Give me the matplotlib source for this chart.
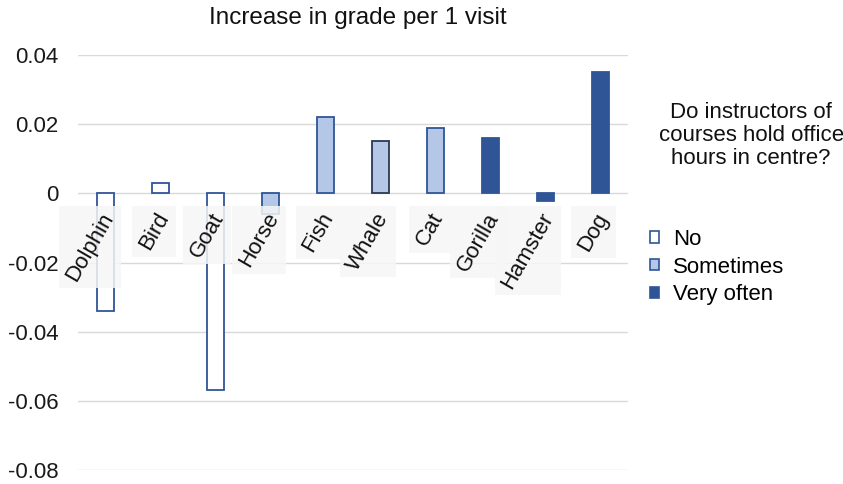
#!/usr/bin/env python3
"""Increase in grade per visit, by animal group."""

import matplotlib
matplotlib.use("Agg")
import matplotlib.pyplot as plt
from matplotlib.patches import Patch, Rectangle
import numpy as np

plt.rcParams["font.family"] = ["Liberation Sans", "DejaVu Sans"]

CATEGORIES = ["Dolphin", "Bird", "Goat", "Horse", "Fish", "Whale", "Cat", "Gorilla", "Hamster", "Dog"]
VALUES = [-0.034, 0.003, -0.057, -0.006, 0.022, 0.0152, 0.019, 0.016, -0.0023, 0.035]
GROUPS = ["No", "No", "No", "Sometimes", "Sometimes", "Sometimes", "Sometimes", "Very often", "Very often", "Very often"]
GROUP_ORDER = ["No", "Sometimes", "Very often"]
Y_TICKS = [-0.08, -0.06, -0.04, -0.02, 0, 0.02, 0.04]
Y_TICK_LABELS = ["-0.08", "-0.06", "-0.04", "-0.02", "0", "0.02", "0.04"]

EDGE = "#2F5597"
FILL = {"No": "white", "Sometimes": "#B4C7E7", "Very often": "#2F5597"}
GRID = "#D9D9D9"


def main() -> None:
    fig = plt.figure(figsize=(8.43, 4.84), dpi=100)
    ax = fig.add_axes([0.0925, 0.029, 0.6525, 0.857])

    x = np.arange(len(CATEGORIES))
    edges = [("#2A3A55" if name == "Whale" else EDGE) for name in CATEGORIES]
    ax.bar(x, VALUES, width=0.31, color=[FILL[g] for g in GROUPS], edgecolor=edges, linewidth=1.3, zorder=2)

    ax.set_xlim(-0.5, len(CATEGORIES) - 0.5)
    ax.set_ylim(-0.08, 0.04)
    ax.set_yticks(Y_TICKS)
    ax.set_yticklabels(Y_TICK_LABELS)
    ax.set_xticks([])
    ax.tick_params(axis="y", length=0, pad=14, labelsize=16, labelcolor="#1A1A1A")
    ax.grid(axis="y", color=GRID, linewidth=1.0, zorder=0)
    for spine in ax.spines.values():
        spine.set_visible(False)

    labels = []
    for xi, name in zip(x, CATEGORIES):
        labels.append(ax.text(xi + 0.06, -0.006, name, rotation=60, rotation_mode="anchor", ha="right",
                              va="center", fontsize=16, color="#111111", zorder=4))

    # axis-aligned light boxes behind the rotated category labels
    fig.canvas.draw()
    renderer = fig.canvas.get_renderer()
    inv = fig.transFigure.inverted()
    for t in labels:
        bb = t.get_window_extent(renderer).padded(3)
        (x0, y0), (x1, y1) = inv.transform([(bb.x0, bb.y0), (bb.x1, bb.y1)])
        fig.add_artist(Rectangle((x0, y0), x1 - x0, y1 - y0, transform=fig.transFigure,
                                 facecolor="#F6F6F6", edgecolor="none", alpha=0.85, zorder=3))
        t.remove()
        fig.text(*inv.transform(t.get_transform().transform(t.get_position())), t.get_text(),
                 rotation=60, rotation_mode="anchor", ha="right", va="center", fontsize=16,
                 color="#111111", zorder=5)

    fig.text(0.425, 0.962, "Increase in grade per 1 visit", ha="center", va="center", fontsize=17.5, color="#111111")

    fig.text(0.891, 0.72, "Do instructors of\ncourses hold office\nhours in centre?", ha="center", va="center",
             fontsize=16, color="#111111", linespacing=1.15)
    handles = [Patch(facecolor=FILL[g], edgecolor=EDGE, linewidth=1.2) for g in GROUP_ORDER]
    fig.legend(handles, GROUP_ORDER, loc="upper left", bbox_to_anchor=(0.758, 0.55), frameon=False,
               fontsize=16, handlelength=0.42, handleheight=0.42, handletextpad=0.6, labelspacing=0.3,
               borderpad=0.0)

    fig.savefig("out.png", dpi=100, facecolor="white")
    plt.close(fig)


if __name__ == "__main__":
    main()
